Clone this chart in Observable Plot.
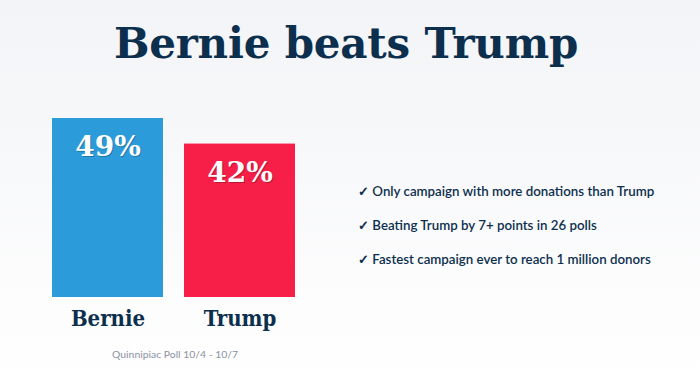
<!DOCTYPE html>
<html><head><meta charset="utf-8">
<script src="https://cdn.jsdelivr.net/npm/d3@7"></script>
<script src="https://cdn.jsdelivr.net/npm/@observablehq/plot@0.6"></script>
<style>
html,body{margin:0;padding:0;}
body{width:700px;height:390px;overflow:hidden;position:relative;background:linear-gradient(#f3f4f7,#ffffff);font-family:Lato,sans-serif;}
#title{position:absolute;left:0;top:14px;width:692px;text-align:center;font:bold 42px "DejaVu Serif";color:#0c2f4e;letter-spacing:-0.2px;line-height:60px;margin:0;}
#chart{position:absolute;left:0;top:95px;}
#notes{position:absolute;left:358px;top:181px;margin:0;padding:0;list-style:none;color:#0c2f4e;font-size:13.3px;font-weight:600;}
#notes li{height:34px;line-height:20px;}
#caption{position:absolute;left:0;width:350px;text-align:center;top:348px;font-size:10.4px;color:#8c91a3;}
</style>
</head><body>
<h1 id="title"></h1>
<div id="chart"></div>
<ul id="notes"></ul>
<div id="caption"></div>
<script>
const titleText = "Bernie beats Trump";
const candidates = ["Bernie", "Trump"];
const shares = [49, 42];
const barColors = ["#2b9bda", "#f71f48"];
const bulletPoints = [
  "Only campaign with more donations than Trump",
  "Beating Trump by 7+ points in 26 polls",
  "Fastest campaign ever to reach 1 million donors"
];
const captionText = "Quinnipiac Poll 10/4 - 10/7";

const data = candidates.map((name, i) => ({name, share: shares[i]}));

document.getElementById("title").textContent = titleText;
document.getElementById("caption").textContent = captionText;
const ul = document.getElementById("notes");
bulletPoints.forEach(t => { const li = document.createElement("li"); li.textContent = "\u2713 " + t; ul.appendChild(li); });

const chart = Plot.plot({
  width: 700,
  height: 295,
  marginTop: 23,
  marginBottom: 93,
  marginLeft: 52,
  marginRight: 405,
  x: {domain: candidates, paddingInner: 0.16, paddingOuter: 0},
  y: {domain: [0, 49], axis: null},
  color: {domain: candidates, range: barColors},
  style: {background: "transparent", color: "#0c2f4e", overflow: "visible"},
  marks: [
    Plot.barY(data, {x: "name", y: "share", fill: "name"}),
    Plot.text(data, {x: "name", y: "share", text: d => d.share + "%", dy: 30, dx: 1, fill: "rgba(0,0,0,0.25)", fontSize: 28, fontWeight: "bold", fontFamily: "DejaVu Serif"}),
    Plot.text(data, {x: "name", y: "share", text: d => d.share + "%", dy: 29, fill: "white", fontSize: 28, fontWeight: "bold", fontFamily: "DejaVu Serif"}),
    Plot.axisX({tickSize: 0, tickPadding: 13, fontSize: 22, fontWeight: "bold", fontFamily: "DejaVu Serif Condensed", label: null})
  ]
});
document.getElementById("chart").appendChild(chart);
</script>
</body></html>
